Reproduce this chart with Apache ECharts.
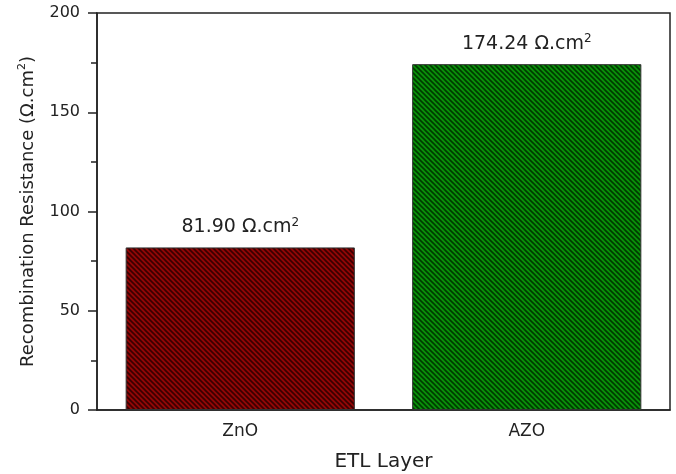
<!DOCTYPE html>
<html>
<head>
<meta charset="utf-8">
<script src="https://cdn.jsdelivr.net/npm/echarts@6/dist/echarts.min.js"></script>
<style>
  html, body { margin: 0; padding: 0; background: #fff; }
  #chart { width: 676px; height: 474px; }
</style>
</head>
<body>
<div id="chart"></div>
<script>
// ETL layers and their recombination resistance (Ω·cm²)
const categories = ['ZnO', 'AZO'];
const resistance = [81.90, 174.24];
const yTicks = [0, 50, 100, 150, 200];

const FONT = 'DejaVu Sans';
const INK = '#222';

// Hatched fill: solid base colour crossed by dark diagonal strokes
function hatch(base, stroke) {
  const s = 5;
  const c = document.createElement('canvas');
  c.width = s; c.height = s;
  const g = c.getContext('2d');
  g.fillStyle = base;
  g.fillRect(0, 0, s, s);
  g.strokeStyle = stroke;
  g.lineWidth = 1.6;
  g.beginPath();
  g.moveTo(-1, -1); g.lineTo(s + 1, s + 1);
  g.moveTo(-1, s - 1); g.lineTo(1, s + 1);
  g.moveTo(s - 1, -1); g.lineTo(s + 1, 1);
  g.stroke();
  return { image: c, repeat: 'repeat' };
}

const fills = [hatch('#920808', '#3a0000'), hatch('#0a900a', '#003a00')];

const chart = echarts.init(document.getElementById('chart'), null, { renderer: 'canvas' });

chart.setOption({
  animation: false,
  backgroundColor: '#fff',
  grid: {
    left: 97, right: 6, top: 13, bottom: 64,
    outerBoundsMode: 'none',
    containLabel: false,
    show: true, borderColor: INK, borderWidth: 1.5, backgroundColor: 'transparent'
  },
  xAxis: [
    {
      type: 'category',
      data: categories,
      name: 'ETL Layer',
      nameLocation: 'middle',
      nameGap: 42,
      nameTextStyle: { fontFamily: FONT, fontSize: 20, color: INK },
      axisLine: { lineStyle: { color: INK, width: 1.5 } },
      axisTick: { alignWithLabel: true, length: 6, lineStyle: { color: INK, width: 1.5 } },
      axisLabel: { fontFamily: FONT, fontSize: 17, color: INK, margin: 13 }
    },
    {
      // boundary ticks between categories
      type: 'category',
      data: categories,
      position: 'bottom',
      axisLine: { show: false },
      axisTick: { length: 4, lineStyle: { color: INK, width: 1.5 } },
      axisLabel: { show: false },
      splitLine: { show: false }
    }
  ],
  yAxis: {
    type: 'value',
    min: yTicks[0],
    max: yTicks[yTicks.length - 1],
    interval: yTicks[1] - yTicks[0],
    name: '{t|Recombination Resistance (Ω.cm}{s|2}{t|)}',
    nameLocation: 'middle',
    nameGap: 58,
    nameTextStyle: {
      color: INK,
      rich: {
        t: { fontFamily: FONT, fontSize: 18, color: INK, lineHeight: 22 },
        s: { fontFamily: FONT, fontSize: 11, color: INK, verticalAlign: 'top', lineHeight: 22 }
      }
    },
    axisLine: { show: true, lineStyle: { color: INK, width: 1.5 } },
    axisTick: { show: true, length: 9, lineStyle: { color: INK, width: 1.5 } },
    minorTick: { show: true, splitNumber: 2, length: 6, lineStyle: { color: INK, width: 1.5 } },
    axisLabel: { fontFamily: FONT, fontSize: 16, color: INK, margin: 17 },
    splitLine: { show: false },
    minorSplitLine: { show: false }
  },
  series: [{
    type: 'bar',
    xAxisIndex: 0,
    barCategoryGap: '20%',
    data: resistance.map((v, i) => ({
      value: v,
      itemStyle: { color: fills[i], borderColor: '#333', borderWidth: 1 }
    })),
    label: {
      show: true,
      position: 'top',
      distance: 9,
      formatter: p => '{a|' + p.value.toFixed(2) + ' Ω.cm}{s|2}',
      rich: {
        a: { fontFamily: FONT, fontSize: 19, color: INK, lineHeight: 22 },
        s: { fontFamily: FONT, fontSize: 12, color: INK, verticalAlign: 'top', lineHeight: 22 }
      }
    }
  }]
});
</script>
</body>
</html>
